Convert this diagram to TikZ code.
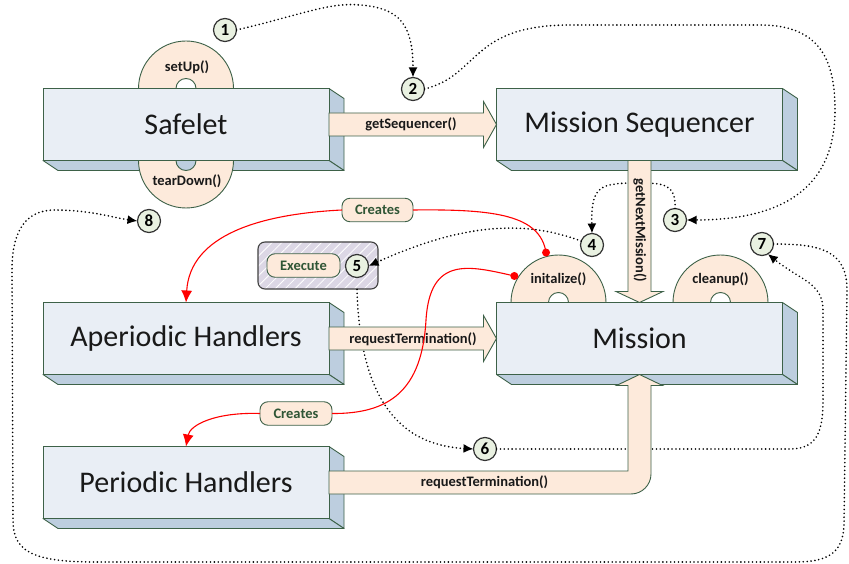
\documentclass[tikz,border=0pt]{standalone}
\usepackage{fontspec}
\setmainfont{Carlito}
\usetikzlibrary{arrows.meta,calc,patterns.meta}
\pgfdeclarelayer{bg}
\pgfdeclarelayer{mid}
\pgfsetlayers{bg,mid,main}
\definecolor{frontc}{HTML}{E9EEF5}
\definecolor{sidec}{HTML}{BDCEDF}
\definecolor{edgec}{HTML}{3D6148}
\definecolor{peach}{HTML}{FDEADB}
\definecolor{numc}{HTML}{E9F1E1}
\definecolor{lav}{HTML}{DCD7E5}
\definecolor{txtg}{HTML}{2F5535}
\begin{document}
\begin{tikzpicture}[x=1pt,y=-1pt,
  box/.style={draw=edgec, line width=0.9pt, fill=frontc, minimum width=286pt, minimum height=72pt, inner sep=0pt, outer sep=0pt, text=black!90, font=\fontsize{30}{36}\selectfont},
  face/.style={draw=edgec, line width=0.9pt, fill=sidec, line join=round},
  disc/.style={circle, draw=edgec, line width=0.9pt, fill=peach, minimum size=95pt, inner sep=0pt, outer sep=0pt},
  hole/.style={circle, draw=edgec, line width=0.9pt, fill=white, minimum size=20pt, inner sep=0pt},
  num/.style={circle, draw=black!80, line width=1.2pt, fill=numc, minimum size=23pt, inner sep=0pt, outer sep=0pt, font=\fontsize{17}{19}\selectfont\bfseries},
  lbl/.style={inner sep=0pt, text=black!90, font=\fontsize{14.5}{17}\selectfont\bfseries},
  pill/.style={rounded corners=8pt, draw=edgec, fill=peach, line width=0.9pt, minimum height=23.5pt, inner sep=0pt, outer sep=0pt, text=txtg, font=\fontsize{14.5}{17}\selectfont\bfseries},
  execbox/.style={rounded corners=7pt, draw=black!75, line width=1.1pt, minimum width=120pt, minimum height=47pt, preaction={fill=lav}, pattern={Lines[angle=45,distance=7pt,line width=0.8pt]}, pattern color=white},
  blk/.style={draw=edgec, line width=0.9pt, fill=peach, line join=miter},
  dots/.style={black, line width=1.8pt, dash pattern=on 0pt off 3.9pt, line cap=round, -{Latex[length=10pt,width=9pt]}},
  redl/.style={red, line width=1.1pt},
  redtip/.style={-{Latex[length=12pt,width=11pt]}},
  reddot/.style={circle, fill=red, inner sep=0pt, minimum size=8pt}
]
\useasboundingbox (0,0) rectangle (849,564);

% boxes
\node[box] (safe) at (186,124.5) {Safelet};
\node[box] (seq)  at (639.5,124.5) {Mission Sequencer};
\node[box] (aper) at (186,338.5) {Aperiodic Handlers};
\node[box] (miss) at (639.5,338.5) {Mission};
\node[box] (peri) at (186,482.5) {Periodic Handlers};

\begin{pgfonlayer}{bg}
\foreach \b in {safe,seq,aper,miss,peri}{
  \path[face] (\b.north east) -- ++(15,10) -- ++(0,72) -- (\b.south east) -- cycle;
  \path[face] (\b.south west) -- ++(15,10) -- ++(286,0) -- (\b.south east) -- cycle;
}
\end{pgfonlayer}

\begin{pgfonlayer}{mid}
\node[disc] (dsetup) at (safe.north) {};
\node[hole] (hsetup) at (safe.north) {};
\node[disc] (dtear) at (safe.south) {};
\node[hole, fill=sidec] (htear) at (safe.south) {};
\node[disc] (dinit) at ($(miss.north)+(-81,0)$) {};
\node[hole] (hinit) at (dinit.center) {};
\node[disc] (dclean) at ($(miss.north)+(81,0)$) {};
\node[hole] (hclean) at (dclean.center) {};
\end{pgfonlayer}

% execute box
\node[execbox] (exec) at (318,265.5) {};
\node[pill, minimum width=73pt] (execlbl) at (303.5,265.5) {Execute};

% numbered circles
\node[num] (n1) at (225,30) {1};
\node[num] (n2) at (413,89) {2};
\node[num] (n3) at (675,220) {3};
\node[num] (n4) at (592,245) {4};
\node[num] (n5) at (357,266) {5};
\node[num] (n6) at (485,449) {6};
\node[num] (n7) at (762,244) {7};
\node[num] (n8) at (149,221) {8};

% dotted sequence connectors
\draw[dots] (n1.east) .. controls (300,15) and (330,2) .. (360,5) .. controls (400,8) and (413,25) .. (n2.north);
\draw[dots] (n2.east) .. controls (480,75) and (470,25) .. (570,25) -- (760,25) .. controls (820,25) and (835,60) .. (835,110) .. controls (835,190) and (780,220) .. (n3.east);
\draw[dots] (n3.north) .. controls (676,185) and (665,183) .. (640,183) .. controls (600,183) and (591,185) .. (n4.north);
\draw[dots] (n4.160) .. controls (530,222) and (470,220) .. (n5.east);
\draw[dots] (n5 |- exec.south) .. controls (360,400) and (400,445) .. (n6.west);
\draw[dots] (n6.east) -- (790,449) .. controls (818,449) and (823,430) .. (823,400) -- (823,310) .. controls (823,283) and (800,280) .. (n7.-60);
\draw[dots] (n7.east) .. controls (820,244) and (847,250) .. (847,290) -- (844,525) .. controls (843,555) and (825,562) .. (795,562) -- (95,562) .. controls (30,562) and (13,550) .. (13,520) -- (12,270) .. controls (12,225) and (30,210) .. (55,210) .. controls (90,210) and (115,218) .. (n8.west);

% block arrows
\path[blk] let \p1=(safe.east), \p2=(seq.west) in
  (\x1,\y1+11.5pt) -- (\x2-13pt,\y1+11.5pt) -- (\x2-13pt,\y2+23pt) -- (\p2) -- (\x2-13pt,\y2-23pt) -- (\x2-13pt,\y1-11.5pt) -- (\x1,\y1-11.5pt) -- cycle;
\path[blk] let \p1=(aper.east), \p2=(miss.west) in
  (\x1,\y1+11.5pt) -- (\x2-13pt,\y1+11.5pt) -- (\x2-13pt,\y2+23pt) -- (\p2) -- (\x2-13pt,\y2-23pt) -- (\x2-13pt,\y1-11.5pt) -- (\x1,\y1-11.5pt) -- cycle;
\path[blk] let \p1=(seq.south), \p2=(miss.north) in
  (\x1-11.5pt,\y1) -- (\x1-11.5pt,\y2+11pt) -- (\x2-23.5pt,\y2+11pt) -- (\p2) -- (\x2+23.5pt,\y2+11pt) -- (\x1+11.5pt,\y2+11pt) -- (\x1+11.5pt,\y1) -- cycle;
\path[blk] let \p1=(peri.east), \p2=(miss.south) in
  (\x1,\y1+11.5pt) -- (\x2-11.5pt,\y1+11.5pt) -- (\x2-11.5pt,\y2-11pt) -- (\x2-23pt,\y2-11pt) -- (\p2) -- (\x2+23pt,\y2-11pt) -- (\x2+11.5pt,\y2-11pt) -- (\x2+11.5pt,\y1+8.5pt) .. controls (\x2+11.5pt,\y1-2.5pt) and (\x2+2.5pt,\y1-11.5pt) .. (\x2-8.5pt,\y1-11.5pt) -- (\x1,\y1-11.5pt) -- cycle;

\node[lbl] (lgs) at (411,124.5) {getSequencer()};
\node[lbl] (lrt1) at (413,339) {requestTermination()};
\node[lbl] (lrt2) at (484.5,482.5) {requestTermination()};
\node[lbl, rotate=-90] (lgnm) at (640,230.5) {getNextMission()};

% disc labels
\node[lbl] (lsetup) at (187,67) {setUp()};
\node[lbl] (ltear) at (187,181) {tearDown()};
\node[lbl] (linit) at (558.5,279) {initalize()};
\node[lbl] (lclean) at (720.5,279) {cleanup()};

% creates pills
\node[pill, minimum width=71pt] (cr1) at (377.5,210) {Creates};
\node[pill, minimum width=72pt] (cr2) at (296,413.5) {Creates};

% red dots
\node[reddot] (r1) at ($(dinit.center)+(104:51.5pt)$) {};
\node[reddot] (r2) at ($(dinit.center)+(149:51.5pt)$) {};

% red connectors
\draw[redl] (r1.center) .. controls (540,215) and (495,209) .. (cr1.east);
\draw[redl, redtip] (cr1.west) .. controls (260,214) and (190,235) .. (aper.north);
\draw[redl] (r2.center) .. controls (470,266) and (430,255) .. (426,320) .. controls (422,390) and (390,414) .. (cr2.east);
\draw[redl, redtip] (cr2.west) .. controls (215,412) and (190,425) .. (peri.north);
\end{tikzpicture}
\end{document}
